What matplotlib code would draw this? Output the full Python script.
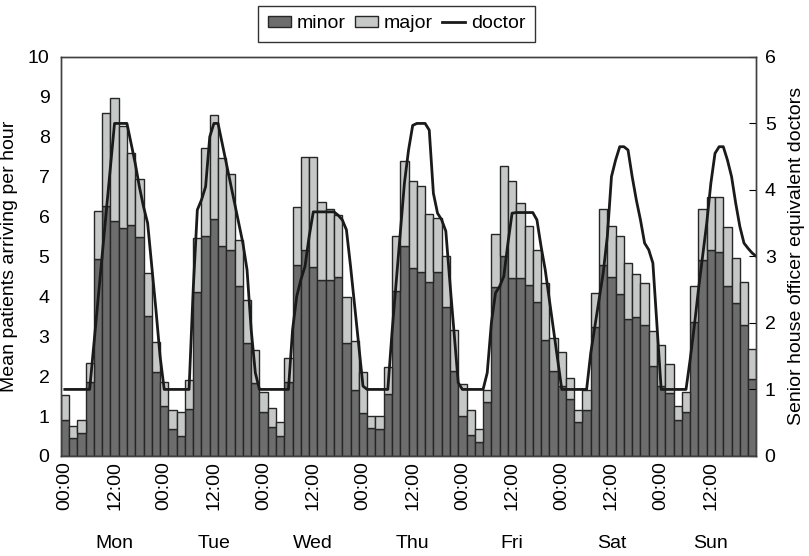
import matplotlib
matplotlib.use("Agg")
import matplotlib.pyplot as plt
from matplotlib.patches import Patch
from matplotlib.lines import Line2D
from matplotlib.transforms import blended_transform_factory
import numpy as np

plt.rcParams['font.family'] = ['Liberation Sans', 'DejaVu Sans']

days = ['Mon', 'Tue', 'Wed', 'Thu', 'Fri', 'Sat', 'Sun']
clock_labels = ['00:00', '12:00']

# mean arrivals per hour, two-hour bins from Monday 00:00
minor = [0.90, 0.44, 0.58, 1.86, 4.94, 6.27, 5.90, 5.72, 5.79, 5.48, 3.50, 2.10,
         1.24, 0.67, 0.50, 1.17, 4.12, 5.50, 5.93, 5.25, 5.15, 4.27, 2.82, 1.84,
         1.09, 0.72, 0.51, 1.85, 4.79, 5.16, 4.73, 4.41, 4.41, 4.49, 2.84, 1.64,
         1.07, 0.71, 0.67, 1.55, 4.14, 5.25, 4.70, 4.60, 4.37, 4.62, 3.74, 2.14,
         0.99, 0.53, 0.36, 1.36, 4.24, 5.00, 4.45, 4.45, 4.29, 3.87, 2.91, 2.13,
         1.75, 1.43, 0.84, 1.15, 3.22, 4.79, 4.49, 4.05, 3.43, 3.47, 3.28, 2.26,
         1.75, 1.57, 0.89, 1.11, 3.35, 4.90, 5.16, 5.10, 4.26, 3.83, 3.28, 1.92]
major = [0.63, 0.31, 0.31, 0.46, 1.21, 2.33, 3.06, 2.55, 1.81, 1.46, 1.08, 0.75,
         0.62, 0.48, 0.59, 0.73, 1.34, 2.21, 2.62, 2.21, 1.91, 1.13, 1.08, 0.82,
         0.51, 0.49, 0.35, 0.61, 1.46, 2.34, 2.77, 1.96, 1.77, 1.56, 1.15, 1.23,
         1.03, 0.28, 0.32, 0.69, 1.36, 2.15, 2.18, 2.17, 1.69, 1.34, 1.27, 1.02,
         0.81, 0.62, 0.32, 0.28, 1.32, 2.27, 2.43, 1.90, 1.48, 1.28, 1.42, 0.82,
         0.86, 0.52, 0.31, 0.49, 0.86, 1.40, 1.27, 1.47, 1.40, 1.09, 1.05, 0.88,
         1.03, 0.73, 0.35, 0.48, 0.91, 1.30, 1.32, 1.38, 1.47, 1.12, 1.09, 0.75]

# SHO-equivalent doctors on duty, hourly
doctor = [1, 1, 1, 1, 1, 1, 1, 1.67, 2.33, 3.0, 3.67, 4.33,
          5, 5, 5, 5, 4.7, 4.4, 4.05, 3.75, 3.5, 2.85, 2.2, 1.5,
          1, 1, 1, 1, 1, 1, 1, 2.5, 3.7, 3.85, 4.05, 4.8,
          5, 5, 4.7, 4.4, 4.1, 3.8, 3.5, 3.2, 2.8, 1.9, 1.25, 1.0,
          1, 1, 1, 1, 1, 1, 1, 1.9, 2.4, 2.65, 2.85, 3.3,
          3.67, 3.67, 3.67, 3.67, 3.67, 3.67, 3.62, 3.55, 3.4, 2.85, 2.25, 1.65,
          1.05, 1, 1, 1, 1, 1, 1, 1.85, 2.6, 3.35, 4.1, 4.6,
          4.97, 5, 5, 5, 4.9, 3.95, 3.65, 3.55, 3.38, 2.6, 1.85, 1.1,
          1, 1, 1, 1, 1, 1, 1.25, 2.0, 2.45, 2.55, 2.7, 3.2,
          3.65, 3.66, 3.66, 3.66, 3.66, 3.66, 3.55, 3.15, 2.8, 2.35, 1.9, 1.45,
          1, 1, 1, 1, 1, 1, 1, 1.55, 1.95, 2.35, 2.75, 3.3,
          4.2, 4.45, 4.65, 4.65, 4.6, 4.2, 3.85, 3.55, 3.2, 3.1, 2.9, 1.95,
          1, 1, 1, 1, 1, 1, 1, 1.45, 1.95, 2.5, 3.0, 3.5,
          4.1, 4.55, 4.65, 4.65, 4.45, 4.2, 3.8, 3.45, 3.2, 3.12, 3.05, 3.0]

FS = 14
edge = '#262626'
dark = '#6d6d6d'
light = '#c6c8c8'

fig = plt.figure(figsize=(8.09, 5.56), dpi=100)
ax = fig.add_axes([0.075, 0.18, 0.86, 0.7176])

centres = np.arange(len(minor)) * 2 + 1
ax.bar(centres, minor, width=2, color=dark, edgecolor=edge, linewidth=1)
ax.bar(centres, major, width=2, bottom=minor, color=light,
       edgecolor=edge, linewidth=1)
ax.set_xlim(0, 2 * len(minor))
ax.set_ylim(0, 10)
ax.set_yticks(range(0, 11))

ticks = centres[::6]
ax.set_xticks(ticks)
ax.set_xticklabels([clock_labels[i % 2] for i in range(len(ticks))],
                   rotation=90, fontsize=FS)
ax.tick_params(axis='x', length=0, pad=4)
ax.tick_params(axis='y', length=0, pad=8, labelsize=FS)
ax.set_ylabel('Mean patients arriving per hour', fontsize=FS)
ax.yaxis.set_label_coords(-0.062, 0.5)

ax2 = ax.twinx()
hours = np.arange(1, len(doctor) + 1)
ax2.plot(hours, doctor, color='#1a1a1a', lw=2)
ax2.set_ylim(0, 6)
ax2.tick_params(axis='y', direction='in', length=5, pad=6, labelsize=FS)
ax2.set_ylabel('Senior house officer equivalent doctors', fontsize=FS)
ax2.yaxis.set_label_coords(1.046, 0.5)

for a in (ax, ax2):
    for s in a.spines.values():
        s.set_color('#404040')
        s.set_linewidth(1)

# weekday names under each midday tick
trans = blended_transform_factory(ax.transData, fig.transFigure)
for d, name in enumerate(days):
    ax.text(centres[6 + 12 * d], 0.008, name, transform=trans,
            ha='center', va='bottom', fontsize=FS)

handles = [Patch(facecolor=dark, edgecolor=edge, linewidth=1),
           Patch(facecolor=light, edgecolor=edge, linewidth=1),
           Line2D([], [], color='#1a1a1a', lw=2)]
leg = fig.legend(handles, ['minor', 'major', 'doctor'], loc='upper center',
                 bbox_to_anchor=(0.49, 0.99), ncol=3, fontsize=FS,
                 frameon=True, fancybox=False, edgecolor='black',
                 handlelength=1.2, handleheight=0.45, handletextpad=0.3,
                 columnspacing=0.45, borderpad=0.5, borderaxespad=0)
leg.get_frame().set_linewidth(1)

fig.savefig('out.png', dpi=100)
